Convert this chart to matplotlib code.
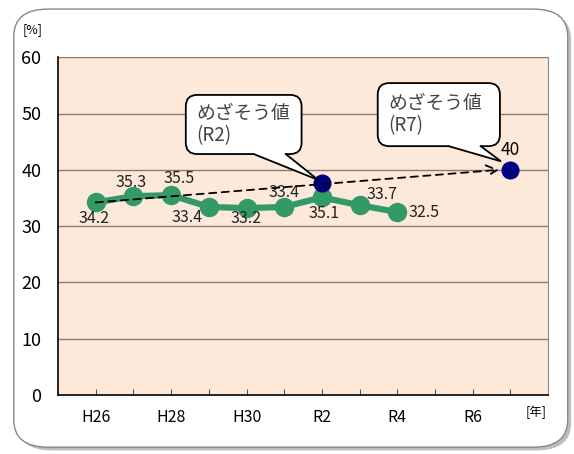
import matplotlib
matplotlib.use('Agg')
import matplotlib.pyplot as plt
from matplotlib.patches import FancyBboxPatch, Polygon

plt.rcParams['font.family'] = ['Noto Sans CJK JP', 'DejaVu Sans']

years = ['H26', 'H27', 'H28', 'H29', 'H30', 'R1', 'R2', 'R3', 'R4', 'R5', 'R6', 'R7']
tick_labels = ['H26', '', 'H28', '', 'H30', '', 'R2', '', 'R4', '', 'R6', '']
actual = [34.2, 35.3, 35.5, 33.4, 33.2, 33.4, 35.1, 33.7, 32.5]
target_years = ['R2', 'R7']
target_values = [37.6, 40]
target_labels = ['めざそう値\n(R2)', 'めざそう値\n(R7)']

# value label offsets from each point, in pixels (dx right, dy down)
label_offsets = [(-2, 16), (-2, -14), (8, -17), (-22, 11), (-1, 10),
                 (0, -14), (2, 16), (22, -11), (27, 0)]

fig = plt.figure(figsize=(5.74, 4.54), dpi=100)

# rounded outer frame with a soft shadow
shadow = FancyBboxPatch((0.03, 0.008), 0.965, 0.965, boxstyle='round,pad=0,rounding_size=0.06',
                        transform=fig.transFigure, fc='#bdbdbd', ec='none', zorder=-2)
frame = FancyBboxPatch((0.024, 0.015), 0.965, 0.965, boxstyle='round,pad=0,rounding_size=0.06',
                       transform=fig.transFigure, fc='white', ec='#888888', lw=1.0, zorder=-1)
fig.patches.extend([shadow, frame])

ax = fig.add_axes([0.101, 0.130, 0.854, 0.744])
ax.set_zorder(2)
ax.set_facecolor('#fde9d9')
x = list(range(len(years)))
ax.set_xlim(-1, 12)
ax.set_ylim(0, 60)

for v in range(10, 61, 10):
    ax.axhline(v, color='#8c7b72', lw=1.0, zorder=1)

ax.plot(x[:len(actual)], actual, color='#339966', lw=4.5, marker='o', ms=13,
        mec='#339966', zorder=4)

for xi, v, (dx, dy) in zip(x, actual, label_offsets):
    ax.annotate(f'{v:.1f}', (xi, v), xytext=(dx * 0.72, -dy * 0.72), textcoords='offset points',
                ha='center', va='center', fontsize=11.5, color='#222222', zorder=6)

tx = [years.index(t) for t in target_years]
ax.plot(tx, target_values, 'o', color='#000080', ms=12, zorder=5)

# dashed trend arrow from first actual value to final target
ax.annotate('', xy=(tx[-1] - 0.3, target_values[-1]), xytext=(x[0], actual[0]),
            arrowprops=dict(arrowstyle='->,head_length=0.8,head_width=0.4', ls=(0, (4, 3)),
                            color='black', lw=1.3, shrinkA=0, shrinkB=0), zorder=6)

ax.annotate(f'{target_values[-1]:g}', (tx[-1], target_values[-1]), xytext=(0, 8),
            textcoords='offset points', ha='center', va='bottom', fontsize=12.5, zorder=6)

# speech-bubble callouts: box (x0, y0, w, h) and tail base (x_left, x_right), data units
boxes = [(2.39, 42.8, 3.07, 10.5), (7.48, 44.2, 3.24, 11.2)]
tails = [(4.19, 5.04), (9.36, 10.21)]
tip_shift = [(-0.1, 0.6), (-0.25, 1.5)]
aspect = (ax.get_position().height * 454 / 60) / (ax.get_position().width * 574 / 13)
for (bx, by, bw, bh), (tl, tr), (sx, sy), t, v, lab in zip(boxes, tails, tip_shift, tx,
                                                              target_values, target_labels):
    box = FancyBboxPatch((bx, by), bw, bh, boxstyle='round,pad=0,rounding_size=0.3',
                         mutation_aspect=1 / aspect, fc='white', ec='black', lw=1.3, zorder=8)
    ax.add_patch(box)
    tip = (t + sx, v + sy)
    ax.add_patch(Polygon([(tl, by + 0.5), (tl, by), tip, (tr, by), (tr, by + 0.5)],
                         closed=True, fc='white', ec='none', zorder=9))
    ax.plot([tl, tip[0], tr], [by, tip[1], by], color='black', lw=1.3, zorder=9,
            solid_joinstyle='miter')
    ax.text(bx + 0.27, by + bh / 2, lab, ha='left', va='center', fontsize=13.5,
            color='#444444', linespacing=1.05, zorder=10)

ax.set_xticks(x)
ax.set_xticklabels(tick_labels, fontsize=11.5)
ax.set_yticks(range(0, 61, 10))
ax.tick_params(axis='y', length=0, labelsize=13, pad=12)
ax.tick_params(axis='x', direction='in', length=4, pad=10, color='#555555')
for side in ['left', 'bottom']:
    ax.spines[side].set_color('black')
    ax.spines[side].set_linewidth(1.2)
ax.spines['top'].set_visible(False)
ax.spines['right'].set_color('#888888')

fig.text(0.040, 0.936, '[%]', fontsize=9, ha='left', va='center')
fig.text(0.915, 0.092, '[年]', fontsize=9, ha='left', va='center')

plt.savefig('out.png', dpi=100)
